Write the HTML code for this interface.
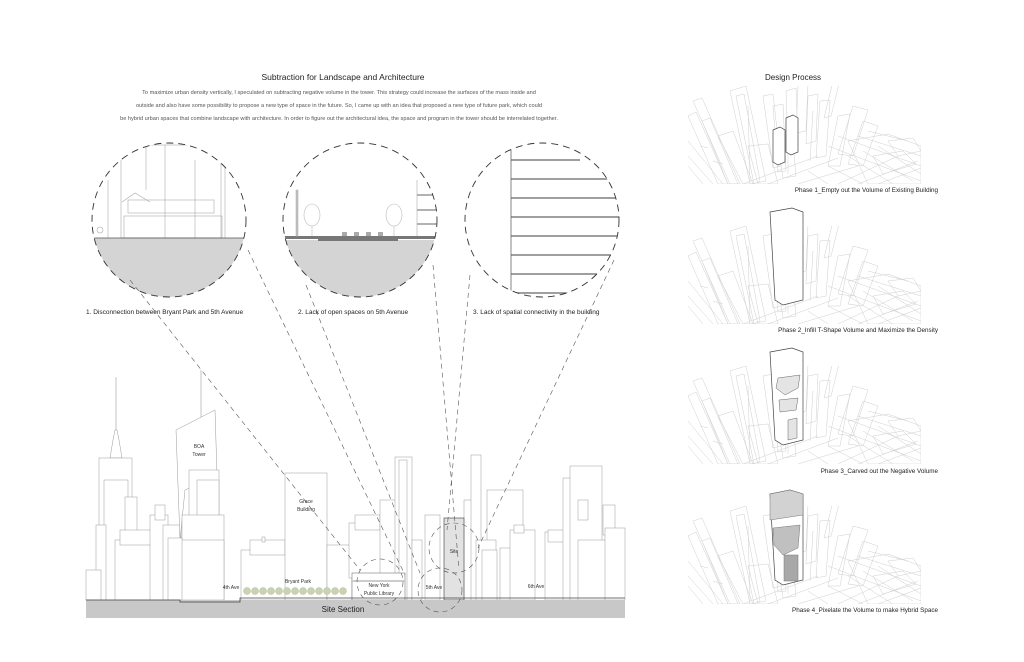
<!DOCTYPE html>
<html><head><meta charset="utf-8"><style>
html,body{margin:0;padding:0;background:#fff;}
svg{display:block;font-family:"Liberation Sans",sans-serif;}
</style></head><body>
<svg width="1024" height="662" viewBox="0 0 1024 662" xmlns="http://www.w3.org/2000/svg">
<defs>
<clipPath id="c1"><circle cx="169" cy="220" r="77"/></clipPath>
<clipPath id="c2"><circle cx="360" cy="220" r="77"/></clipPath>
<clipPath id="c3"><circle cx="542" cy="220" r="77"/></clipPath>
<clipPath id="pc"><rect x="0" y="0" width="233" height="98"/></clipPath>
<g id="bg" fill="none" stroke="#cfcfcf" stroke-width="0.5" clip-path="url(#pc)">
 <polygon points="0,30 8,26 40,98 30,98"/>
 <polygon points="5,15 14,12 52,98 42,98"/>
 <polygon points="14,35 22,32 50,98 40,98"/>
 <polygon points="42,5 58,0 78,95 62,98"/>
 <polygon points="48,10 56,8 72,95 66,98"/>
 <polygon points="30,50 45,45 65,98 55,98"/>
 <polygon points="75,10 85,8 93,80 85,82"/>
 <polygon points="85,20 95,18 98,85 90,86"/>
 <polygon points="98,5 108,2 110,60 100,62"/>
 <polygon points="110,0 120,-2 118,45 108,47"/>
 <polygon points="120,10 130,8 128,55 118,58"/>
 <polygon points="132,15 142,14 138,70 128,72"/>
 <polygon points="145,-5 152,-6 143,30 136,32"/>
 <polygon points="150,30 162,28 152,80 140,80"/>
 <polygon points="165,20 180,24 165,70 150,68"/>
 <polygon points="175,35 190,40 175,80 160,78"/>
 <polygon points="60,60 80,58 90,98 70,98"/>
 <polygon points="90,60 105,58 108,90 95,92"/>
 <path d="M55,98 L130,70 M80,98 L150,72 M110,98 L170,80 M150,98 L210,70 M170,98 L230,75 M190,98 L233,82 M140,60 L233,95 M150,50 L233,80 M170,50 L233,70 M180,45 L220,55 M120,85 L140,98 M140,80 L175,98 M160,70 L205,98 M175,65 L225,95 M190,60 L233,88"/>
 <polygon points="160,55 200,48 233,60 233,98 180,98"/>
 <polygon points="185,70 215,65 228,78 195,88"/>
 <polygon points="200,55 225,52 233,65 210,70"/>
 <path d="M0,70 L25,98 M0,80 L15,98 M0,55 L35,98 M12,60 L20,62 M25,75 L35,78"/>
 <path d="M60,20 L62,95 M100,30 L100,88 M125,25 L122,75"/>
</g>
</defs>

<!-- Title & text -->
<text x="343" y="80" font-size="8.5" text-anchor="middle" fill="#222">Subtraction for Landscape and Architecture</text>
<g font-size="5.6" fill="#555" text-anchor="middle">
<text x="339" y="94">To maximize urban density vertically, I speculated on subtracting negative volume in the tower. This strategy could increase the surfaces of the mass inside and</text>
<text x="339" y="107">outside and also have some possibility to propose a new type of space in the future. So, I came up with an idea that proposed a new type of future park, which could</text>
<text x="339" y="120">be hybrid urban spaces that combine landscape with architecture. In order to figure out the architectural idea, the space and program in the tower should be interrelated together.</text>
</g>

<!-- Circle 1 -->
<g clip-path="url(#c1)">
<rect x="90" y="238" width="160" height="80" fill="#d4d4d4"/>
<g fill="none" stroke="#aaa" stroke-width="0.6">
<rect x="121" y="145" width="100" height="93"/>
<line x1="146" y1="145" x2="146" y2="190"/><line x1="165" y1="145" x2="165" y2="238"/><line x1="195" y1="160" x2="195" y2="238"/>
<rect x="128" y="200" width="86" height="13"/>
<rect x="124" y="216" width="98" height="22"/>
<polyline points="122,202 135,193 150,202"/>
<line x1="108" y1="180" x2="108" y2="238"/><line x1="225" y1="160" x2="225" y2="238"/>
<circle cx="100" cy="230" r="3"/>
</g>
<line x1="90" y1="238" x2="250" y2="238" stroke="#555" stroke-width="0.8"/>
</g>
<circle cx="169" cy="220" r="77" fill="none" stroke="#333" stroke-width="0.9" stroke-dasharray="7,5"/>

<!-- Circle 2 -->
<g clip-path="url(#c2)">
<rect x="280" y="240" width="160" height="80" fill="#d4d4d4"/>
<rect x="280" y="236" width="160" height="3" fill="#777"/>
<rect x="318" y="238" width="80" height="3" fill="#777"/>
<g fill="none" stroke="#bbb" stroke-width="0.6">
<rect x="296" y="190" width="2" height="46" fill="#bbb"/>
<ellipse cx="312" cy="215" rx="8" ry="11"/><line x1="312" y1="226" x2="312" y2="236"/>
<ellipse cx="394" cy="215" rx="8" ry="11"/><line x1="394" y1="226" x2="394" y2="236"/>
</g>
<g stroke="#666" stroke-width="1"><line x1="417" y1="195" x2="440" y2="195"/><line x1="417" y1="210" x2="440" y2="210"/><line x1="417" y1="224" x2="440" y2="224"/></g>
<line x1="417" y1="180" x2="417" y2="236" stroke="#aaa" stroke-width="0.6"/>
<g fill="#aaa"><rect x="342" y="232" width="5" height="4"/><rect x="354" y="232" width="5" height="4"/><rect x="366" y="232" width="5" height="4"/><rect x="378" y="232" width="5" height="4"/></g>
</g>
<circle cx="360" cy="220" r="77" fill="none" stroke="#333" stroke-width="0.9" stroke-dasharray="7,5"/>

<!-- Circle 3 -->
<g clip-path="url(#c3)">
<line x1="511" y1="150" x2="511" y2="300" stroke="#666" stroke-width="0.8"/>
<g stroke="#666" stroke-width="1.3">
<line x1="511" y1="160" x2="580" y2="160"/>
<line x1="511" y1="179" x2="610" y2="179"/>
<line x1="511" y1="198" x2="620" y2="198"/>
<line x1="511" y1="217" x2="620" y2="217"/>
<line x1="511" y1="236" x2="620" y2="236"/>
<line x1="511" y1="255" x2="620" y2="255"/>
<line x1="511" y1="274" x2="610" y2="274"/>
<line x1="511" y1="293" x2="600" y2="293"/>
</g>
</g>
<circle cx="542" cy="220" r="77" fill="none" stroke="#333" stroke-width="0.9" stroke-dasharray="7,5"/>

<g font-size="6.5" fill="#222">
<text x="86" y="314">1. Disconnection between Bryant Park and 5th Avenue</text>
<text x="298" y="314">2. Lack of open spaces on 5th Avenue</text>
<text x="473" y="314">3. Lack of spatial connectivity in the building</text>
</g>

<!-- Skyline -->
<g fill="#fff" stroke="#999" stroke-width="0.5">
<!-- Empire state -->
<line x1="116" y1="377" x2="116" y2="430" stroke="#888"/>
<polygon points="110,458 113,440 115,430 117,430 119,440 122,458"/>
<rect x="99" y="458" width="33" height="142"/>
<rect x="104" y="480" width="24" height="120"/>
<rect x="125" y="497" width="12" height="70"/>
<rect x="96" y="525" width="10" height="75"/>
<rect x="86" y="570" width="15" height="30"/>
<rect x="115" y="540" width="50" height="60"/>
<rect x="120" y="530" width="40" height="15"/>
<rect x="150" y="515" width="18" height="85"/>
<rect x="155" y="505" width="10" height="15"/>
<rect x="163" y="525" width="18" height="75"/>
<!-- BOA -->
<line x1="201" y1="370" x2="201" y2="420" stroke="#888"/>
<polygon points="176,430 215,410 217,475 185,490 180,540"/>
<rect x="189" y="470" width="30" height="80"/>
<rect x="197" y="480" width="22" height="40"/>
<rect x="182" y="515" width="42" height="85"/>
<rect x="180" y="540" width="44" height="60"/>
<rect x="168" y="538" width="14" height="62"/>
<!-- Bryant park side -->
<rect x="241" y="550" width="45" height="50"/>
<rect x="250" y="540" width="35" height="15"/>
<rect x="262" y="537" width="3" height="5"/>
<!-- Grace -->
<rect x="285" y="473" width="42" height="127"/>
<rect x="327" y="545" width="25" height="55"/>
<rect x="349" y="523" width="50" height="55"/>
<rect x="355" y="515" width="25" height="15"/>
<rect x="380" y="500" width="18" height="100"/>
<rect x="395" y="457" width="17" height="143"/>
<rect x="399" y="460" width="8" height="140"/>
<rect x="412" y="540" width="10" height="60"/>
<rect x="425" y="515" width="15" height="85"/>
<!-- right of site -->
<rect x="464" y="500" width="8" height="100"/>
<rect x="471" y="455" width="10" height="145"/>
<rect x="487" y="490" width="36" height="110"/>
<rect x="476" y="540" width="20" height="60"/>
<rect x="482" y="550" width="15" height="50"/>
<rect x="500" y="548" width="20" height="52"/>
<rect x="510" y="530" width="25" height="70"/>
<rect x="514" y="525" width="10" height="8"/>
<rect x="545" y="532" width="25" height="68"/>
<rect x="548" y="530" width="20" height="12"/>
<rect x="563" y="478" width="20" height="122"/>
<rect x="570" y="466" width="32" height="134"/>
<rect x="578" y="500" width="10" height="20"/>
<rect x="578" y="540" width="40" height="60"/>
<rect x="603" y="505" width="12" height="30"/>
<rect x="605" y="528" width="20" height="72"/>
</g>
<rect x="444" y="518" width="20" height="82" fill="#e2e2e2" stroke="#555" stroke-width="0.7"/>
<rect x="352" y="573" width="53" height="27" fill="#fff" stroke="#777" stroke-width="0.6"/>
<rect x="352" y="580" width="53" height="2" fill="#ccc"/>
<g fill="#c9d3b0" stroke="#a8b288" stroke-width="0.4">
<circle cx="247" cy="591" r="3.5"/><circle cx="255" cy="591" r="3.5"/><circle cx="263" cy="591" r="3.5"/><circle cx="271" cy="591" r="3.5"/><circle cx="279" cy="591" r="3.5"/><circle cx="287" cy="591" r="3.5"/><circle cx="295" cy="591" r="3.5"/><circle cx="303" cy="591" r="3.5"/><circle cx="311" cy="591" r="3.5"/><circle cx="319" cy="591" r="3.5"/><circle cx="327" cy="591" r="3.5"/><circle cx="335" cy="591" r="3.5"/><circle cx="343" cy="591" r="3.5"/>
</g>
<rect x="86" y="600" width="539" height="18" fill="#c8c8c8"/>
<polyline points="86,600 180,600 180,602 240,602 240,598 625,598" fill="none" stroke="#444" stroke-width="0.8"/>
<text x="343" y="612" font-size="8" text-anchor="middle" fill="#222">Site Section</text>
<g font-size="5" fill="#333" text-anchor="middle">
<text x="199" y="448">BOA</text><text x="199" y="456">Tower</text>
<text x="306" y="503">Grace</text><text x="306" y="511">Building</text>
<text x="298" y="583">Bryant Park</text>
<text x="231" y="589">4th Ave</text>
<text x="379" y="587">New York</text><text x="379" y="595">Public Library</text>
<text x="434" y="589">5th Ave</text>
<text x="454" y="553">Site</text>
<text x="536" y="588">6th Ave</text>
</g>

<!-- dashed connector lines -->
<g stroke="#555" stroke-width="0.6" stroke-dasharray="5,4" fill="none">
<circle cx="380" cy="582" r="23"/>
<circle cx="440" cy="590" r="22"/>
<circle cx="454" cy="548" r="25"/>
<line x1="130" y1="280" x2="360" y2="570"/>
<line x1="248" y1="250" x2="405" y2="575"/>
<line x1="306" y1="285" x2="420" y2="573"/>
<line x1="433" y1="265" x2="459" y2="570"/>
<line x1="470" y1="275" x2="447" y2="530"/>
<line x1="614" y1="260" x2="478" y2="548"/>
</g>

<!-- Right: design process -->
<text x="765" y="80" font-size="8" fill="#222">Design Process</text>
<use href="#bg" x="688" y="86"/>
<use href="#bg" x="688" y="226"/>
<use href="#bg" x="688" y="366"/>
<use href="#bg" x="688" y="506"/>
<g fill="#fff" stroke="#444" stroke-width="0.7">
<polygon points="773,130 780,127 785,130 785,162 778,165 773,162"/>
<polygon points="786,118 793,115 798,118 798,152 791,155 786,152"/>
<polygon points="770,212 792,208 803,212 803,300 783,305 775,300"/>
<polygon points="770,352 792,348 803,352 803,440 783,445 775,440"/>
<polygon points="770,494 790,490 803,494 803,580 783,585 775,580"/>
</g>
<g stroke="#666" stroke-width="0.5" fill="#e4e4e4">
<polygon points="778,378 800,375 798,388 785,395 776,388"/><polygon points="779,400 798,398 796,410 780,412"/><polygon points="788,420 797,418 797,438 788,440"/>
</g>
<g stroke="#777" stroke-width="0.5">
<polygon points="770,494 790,490 803,494 803,515 770,520" fill="#d2d2d2"/>
<polygon points="773,528 800,525 798,548 783,555 774,545" fill="#c0c0c0"/>
<rect x="784" y="555" width="14" height="26" fill="#a8a8a8"/>
</g>
<g font-size="6.3" fill="#222" text-anchor="end">
<text x="938" y="192">Phase 1_Empty out the Volume of Existing Building</text>
<text x="938" y="332">Phase 2_Infill T-Shape Volume and Maximize the Density</text>
<text x="938" y="473">Phase 3_Carved out the Negative Volume</text>
<text x="938" y="612">Phase 4_Pixelate the Volume to make Hybrid Space</text>
</g>
</svg>
</body></html>
